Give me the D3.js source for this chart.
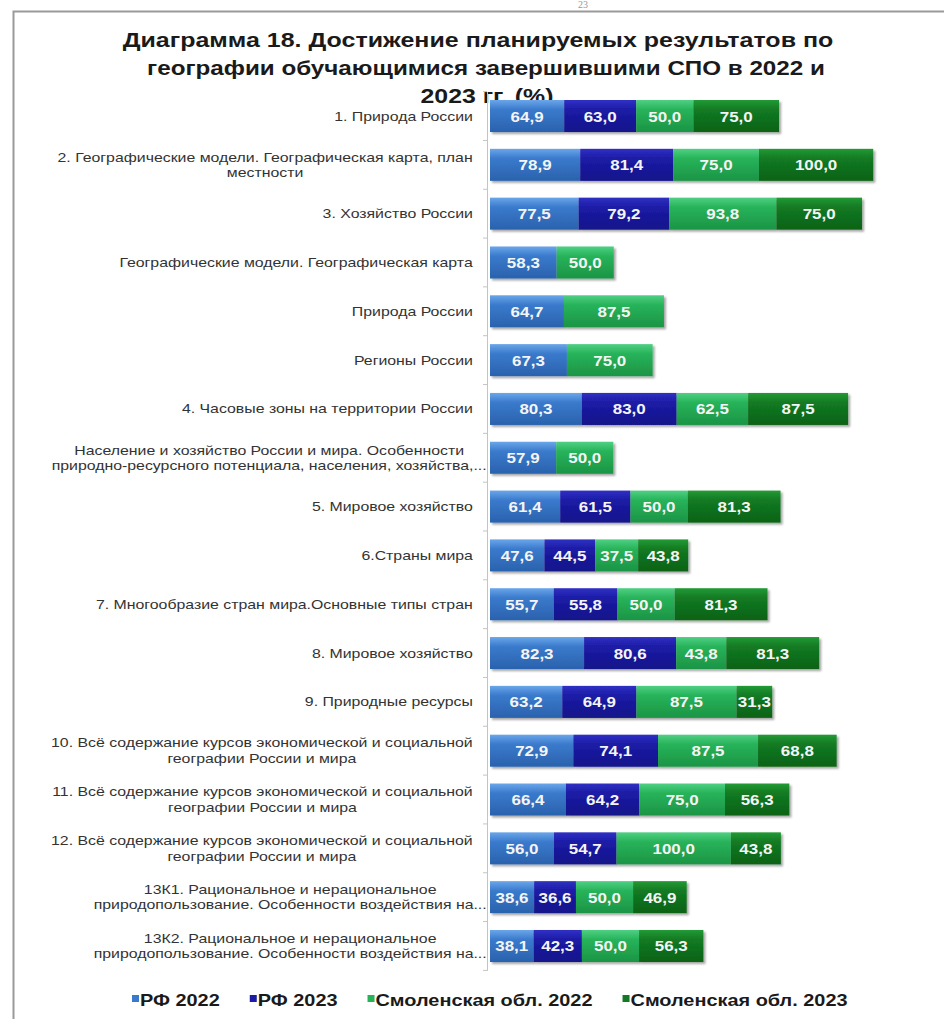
<!DOCTYPE html>
<html><head><meta charset="utf-8">
<script src="https://cdn.jsdelivr.net/npm/d3@7"></script>
<style>body{margin:0;background:#fff}svg{display:block}</style>
</head><body>
<script>
const titleLines = [
  "Диаграмма 18. Достижение планируемых результатов по",
  "географии обучающимися завершившими СПО в 2022 и",
  "2023 гг. (%)"
];
const categories = [
  "1. Природа России",
  "2. Географические модели. Географическая карта, план\nместности",
  "3. Хозяйство России",
  "Географические модели. Географическая карта",
  "Природа России",
  "Регионы России",
  "4. Часовые зоны на территории России",
  "Население и хозяйство России и мира. Особенности\nприродно-ресурсного потенциала, населения, хозяйства,...",
  "5. Мировое хозяйство",
  "6.Страны мира",
  "7. Многообразие стран мира.Основные типы стран",
  "8. Мировое хозяйство",
  "9. Природные ресурсы",
  "10. Всё содержание курсов экономической и социальной\nгеографии России и мира",
  "11. Всё содержание курсов экономической и социальной\nгеографии России и мира",
  "12. Всё содержание курсов экономической и социальной\nгеографии России и мира",
  "13К1. Рациональное и нерациональное\nприродопользование. Особенности воздействия на...",
  "13К2. Рациональное и нерациональное\nприродопользование. Особенности воздействия на..."
];
const seriesNames = ["РФ 2022", "РФ 2023", "Смоленская обл. 2022", "Смоленская обл. 2023"];
const rf2022   = [64.9, 78.9, 77.5, 58.3, 64.7, 67.3, 80.3, 57.9, 61.4, 47.6, 55.7, 82.3, 63.2, 72.9, 66.4, 56.0, 38.6, 38.1];
const rf2023   = [63.0, 81.4, 79.2, null, null, null, 83.0, null, 61.5, 44.5, 55.8, 80.6, 64.9, 74.1, 64.2, 54.7, 36.6, 42.3];
const smol2022 = [50.0, 75.0, 93.8, 50.0, 87.5, 75.0, 62.5, 50.0, 50.0, 37.5, 50.0, 43.8, 87.5, 87.5, 75.0, 100.0, 50.0, 50.0];
const smol2023 = [75.0, 100.0, 75.0, null, null, null, 87.5, null, 81.3, 43.8, 81.3, 81.3, 31.3, 68.8, 56.3, 43.8, 46.9, 56.3];
const seriesValues = [rf2022, rf2023, smol2022, smol2023];
const pageNumber = "23";

const W = 944, H = 1019;
const colors = [
  ["#6aa6ea", "#3a7acc", "#2a62ad"],
  ["#3030c4", "#1c1ca6", "#12128a"],
  ["#4fd083", "#27b35a", "#1c9445"],
  ["#239a35", "#137a23", "#0a6216"]
];

const svg = d3.select("body").append("svg").attr("width", W).attr("height", H)
  .style("font-family", "'Liberation Sans', Arial, sans-serif");

function hstretch(node, ax, sx) {
  d3.select(node).attr("transform", `translate(${ax},0) scale(${sx},1) translate(${-ax},0)`);
}

const defs = svg.append("defs");
colors.forEach((c, i) => {
  const g = defs.append("linearGradient").attr("id", "g" + i).attr("x1", 0).attr("y1", 0).attr("x2", 0).attr("y2", 1);
  g.append("stop").attr("offset", "0%").attr("stop-color", c[0]);
  g.append("stop").attr("offset", "30%").attr("stop-color", c[1]);
  g.append("stop").attr("offset", "100%").attr("stop-color", c[2]);
});
const f = defs.append("filter").attr("id", "sh").attr("x", "-5%").attr("y", "-20%").attr("width", "115%").attr("height", "160%");
f.append("feDropShadow").attr("dx", 2).attr("dy", 2).attr("stdDeviation", 1.2).attr("flood-color", "#000").attr("flood-opacity", 0.35);

// page frame
svg.append("text").attr("x", 583).attr("y", 8).attr("text-anchor", "middle")
  .style("font-family", "'Liberation Serif', serif").style("font-size", "10px").attr("fill", "#999").text(pageNumber);
svg.append("path").attr("d", `M${W},11.5H13.5V${H}`).attr("fill", "none").attr("stroke", "#9a9a9a").attr("stroke-width", 2);

// title
const titleW = [711, 678, 133];
const titleCx = [478, 486, 487];
const title = svg.append("g");
titleLines.forEach((t, i) => {
  const el = title.append("text").attr("x", titleCx[i]).attr("y", 47 + i * 28).attr("text-anchor", "middle")
    .style("font-size", "21px").style("font-weight", "bold").attr("fill", "#1a1a1a").text(t);
  hstretch(el.node(), titleCx[i], titleW[i] / el.node().getComputedTextLength());
});

// data
const rows = categories.map((c, i) => {
  const o = { cat: c };
  seriesNames.forEach((s, k) => o[s] = seriesValues[k][i] == null ? 0 : seriesValues[k][i]);
  return o;
});
const stack = d3.stack().keys(seriesNames)(rows);

const x = d3.scaleLinear().domain([0, 100]).range([490, 604.3]);
const y = d3.scaleBand().domain(categories).range([91.6, 970.4]).paddingInner(0.344).paddingOuter(0.172);

const loc = d3.formatLocale({ decimal: ",", thousands: " ", grouping: [3], currency: ["", ""] });
const fmt = loc.format(".1f");

// axis
const axis = svg.append("g").attr("transform", `translate(${x(0) - 3},0)`)
  .call(d3.axisLeft(y).tickSize(0).tickFormat(""));
axis.select(".domain").attr("stroke", "#c4c4c4").attr("stroke-width", 1);
const bounds = d3.range(categories.length + 1).map(i => y.range()[0] + i * y.step());
axis.selectAll(".bt").data(bounds).join("line").attr("class", "bt")
  .attr("x1", -4).attr("x2", 0).attr("y1", d => d).attr("y2", d => d).attr("stroke", "#c4c4c4");

// bars
const layers = svg.append("g").selectAll("g").data(stack).join("g");
layers.each(function (layer, k) {
  const g = d3.select(this);
  const segs = layer.map((d, i) => ({ x0: d[0], x1: d[1], cat: categories[i], v: seriesValues[k][i] }))
    .filter(d => d.v != null);
  g.selectAll("rect").data(segs).join("rect")
    .attr("x", d => x(d.x0)).attr("width", d => x(d.x1) - x(d.x0))
    .attr("y", d => y(d.cat)).attr("height", y.bandwidth())
    .attr("fill", `url(#g${k})`).attr("filter", "url(#sh)");
});
// labels on bars
layers.each(function (layer, k) {
  const g = d3.select(this);
  const segs = layer.map((d, i) => ({ x0: d[0], x1: d[1], cat: categories[i], v: seriesValues[k][i] }))
    .filter(d => d.v != null);
  g.selectAll("text").data(segs).join("text")
    .attr("x", d => (x(d.x0) + x(d.x1)) / 2).attr("y", d => y(d.cat) + y.bandwidth() / 2 + 5.5)
    .attr("text-anchor", "middle").style("font-size", "15px").style("font-weight", "bold")
    .attr("fill", "#f4f4f4").text(d => fmt(d.v))
    .each(function (d) { hstretch(this, (x(d.x0) + x(d.x1)) / 2, 1.13); });
});

// category labels
const labG = svg.append("g");
const lsx = 1.27;
categories.forEach(c => {
  const lines = c.split("\n");
  const cy = y(c) + y.bandwidth() / 2;
  const t = labG.append("text").style("font-size", "12.5px").attr("fill", "#333");
  const lh = 15.5;
  lines.forEach((l, i) => {
    t.append("tspan").attr("y", cy + 4.5 + (i - (lines.length - 1) / 2) * lh).text(l);
  });
  let maxW = 0;
  t.selectAll("tspan").each(function () { maxW = Math.max(maxW, this.getComputedTextLength()); });
  const right = c.endsWith("...") ? 487 : 473;
  t.attr("text-anchor", "middle").selectAll("tspan").attr("x", right - maxW / 2);
  hstretch(t.node(), right, lsx);
});

// legend
const leg = svg.append("g").attr("transform", "translate(132,1000)");
const legSx = 1.17;
let lx = 0;
seriesNames.forEach((s, k) => {
  leg.append("rect").attr("x", lx).attr("y", -5).attr("width", 7).attr("height", 7).attr("fill", colors[k][1]);
  const t = leg.append("text").attr("x", lx + 8).attr("y", 5.5).style("font-size", "17px").style("font-weight", "bold")
    .attr("fill", "#1a1a1a").text(s);
  const w = t.node().getComputedTextLength() * legSx;
  hstretch(t.node(), lx + 8, legSx);
  lx += 8 + w + 30;
});
</script>
</body></html>
